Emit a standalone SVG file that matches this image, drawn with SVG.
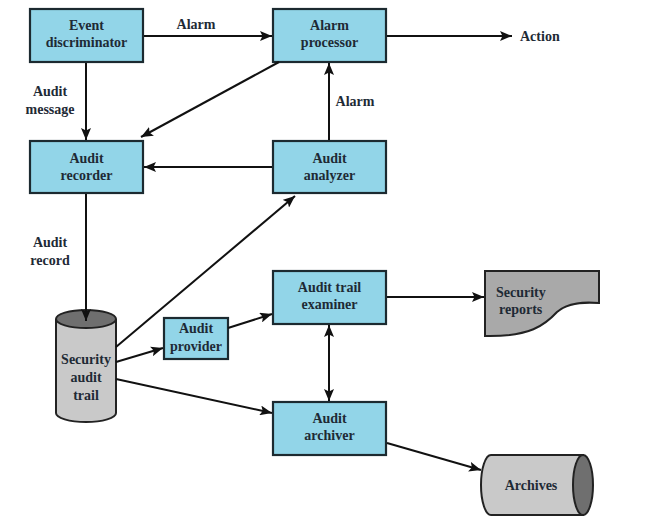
<svg xmlns="http://www.w3.org/2000/svg" width="649" height="521" viewBox="0 0 649 521">
<style>
.box{fill:#92d5e8;stroke:#1c2a30;stroke-width:2.2}
.t{font-family:"Liberation Serif","Times New Roman",serif;font-weight:bold;font-size:14px;fill:#1e2a35;text-anchor:middle}
.s{text-anchor:start}
.c{stroke:#111;stroke-width:2;fill:none;marker-end:url(#ah)}
.gray{fill:#c9c9c9;stroke:#222;stroke-width:2}
</style>
<defs>
<marker id="ah" viewBox="0 0 12 10" refX="12" refY="5" markerWidth="12" markerHeight="10" markerUnits="userSpaceOnUse" orient="auto-start-reverse">
<path d="M0,0 L12,5 L0,10 L2.5,5 Z" fill="#111"/>
</marker>
</defs>
<rect width="649" height="521" fill="#fff"/>
<g id="event-discriminator">
<rect class="box" x="30" y="9" width="113" height="53"/>
<text class="t" x="86.5" y="30">Event</text>
<text class="t" x="86.5" y="47">discriminator</text>
</g>
<g id="alarm-processor">
<rect class="box" x="273" y="9" width="113" height="53"/>
<text class="t" x="329.5" y="30">Alarm</text>
<text class="t" x="329.5" y="47">processor</text>
</g>
<g id="audit-recorder">
<rect class="box" x="30" y="141" width="113" height="52"/>
<text class="t" x="86.5" y="163">Audit</text>
<text class="t" x="86.5" y="180">recorder</text>
</g>
<g id="audit-analyzer">
<rect class="box" x="273" y="141" width="113" height="52"/>
<text class="t" x="329.5" y="163">Audit</text>
<text class="t" x="329.5" y="180">analyzer</text>
</g>
<g id="audit-trail-examiner">
<rect class="box" x="273" y="271" width="113" height="53"/>
<text class="t" x="329.5" y="292">Audit trail</text>
<text class="t" x="329.5" y="309">examiner</text>
</g>
<g id="audit-archiver">
<rect class="box" x="273" y="402" width="113" height="53"/>
<text class="t" x="329.5" y="423">Audit</text>
<text class="t" x="329.5" y="440">archiver</text>
</g>
<g id="audit-provider">
<rect class="box" x="164" y="318" width="64" height="41"/>
<text class="t" x="196" y="333">Audit</text>
<text class="t" x="196" y="351">provider</text>
</g>
<g id="security-audit-trail">
<path class="gray" d="M56,319 V413 A30,9 0 0 0 116,413 V319"/>
<ellipse cx="86" cy="319" rx="30" ry="9" fill="#6f6f6f" stroke="#222" stroke-width="2"/>
<text class="t" x="86" y="364">Security</text>
<text class="t" x="86" y="382">audit</text>
<text class="t" x="86" y="400">trail</text>
</g>
<g id="security-reports">
<path d="M485,271 H599 V303 C585,302 568,302 557,312 C545,325 530,337 485,336 Z" fill="#a9a9a9" stroke="#222" stroke-width="2"/>
<text class="t s" x="496" y="297">Security</text>
<text class="t s" x="499" y="314">reports</text>
</g>
<g id="archives">
<path class="gray" d="M491,455 H583 V515 H491 A10,30 0 0 1 491,455 Z"/>
<ellipse cx="583" cy="485" rx="10" ry="30" fill="#6f6f6f" stroke="#222" stroke-width="2"/>
<text class="t" x="531" y="490">Archives</text>
</g>
<g id="connectors">
<line class="c" x1="144" y1="36" x2="272" y2="36"/>
<line class="c" x1="387" y1="36" x2="512" y2="36"/>
<line class="c" x1="86" y1="63" x2="86" y2="140"/>
<line class="c" x1="279" y1="62" x2="141" y2="137"/>
<line class="c" x1="329" y1="140" x2="329" y2="63"/>
<line class="c" x1="272" y1="167" x2="144" y2="167"/>
<line class="c" x1="86" y1="194" x2="86" y2="321"/>
<line class="c" x1="116" y1="347" x2="295" y2="196"/>
<line class="c" x1="116" y1="362" x2="163" y2="348"/>
<line class="c" x1="228" y1="328" x2="272" y2="314"/>
<line class="c" x1="116" y1="379" x2="272" y2="413"/>
<line class="c" x1="329" y1="325" x2="329" y2="401" marker-start="url(#ah)"/>
<line class="c" x1="387" y1="297" x2="484" y2="297"/>
<line class="c" x1="387" y1="443" x2="481" y2="470"/>
<text class="t" x="196" y="29">Alarm</text>
<text class="t s" x="520" y="41">Action</text>
<text class="t" x="50" y="96">Audit</text>
<text class="t" x="50" y="114">message</text>
<text class="t" x="355" y="106">Alarm</text>
<text class="t" x="50" y="247">Audit</text>
<text class="t" x="50" y="265">record</text>
</g>
</svg>
